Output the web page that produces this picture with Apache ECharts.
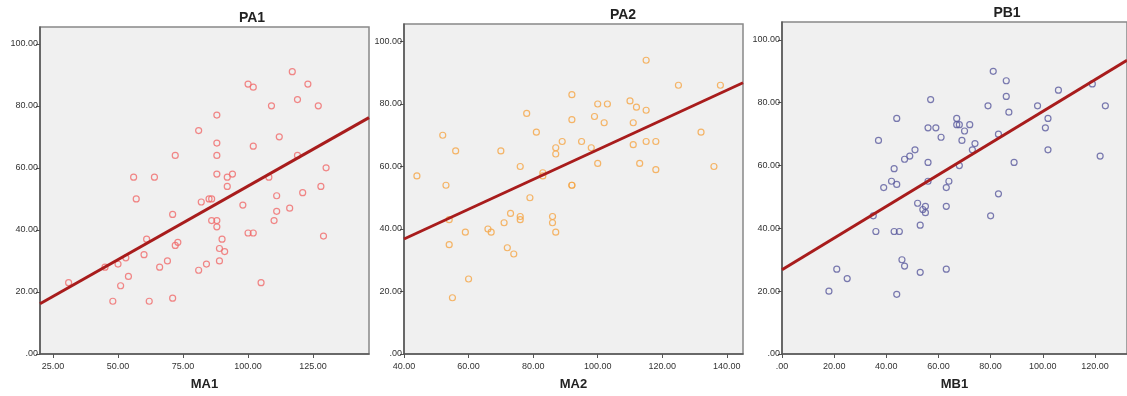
<!DOCTYPE html>
<html>
<head>
<meta charset="utf-8">
<script src="https://cdn.jsdelivr.net/npm/echarts@6/dist/echarts.min.js"></script>
<style>
  html, body { margin: 0; padding: 0; background: #fff; }
  #main { width: 1127px; height: 396px; }
</style>
</head>
<body>
<div id="main"></div>
<script>
// PA1 vs MA1
var ma1 = [117, 123, 100, 102, 119, 109, 127, 88, 81, 112, 88, 102, 72, 88, 119, 56, 64, 88, 92, 94, 108,
           130, 92, 128, 121, 111, 57, 85, 86, 82, 98, 71, 86, 88, 88, 110, 111, 116, 100, 102, 129, 61,
           90, 73, 72, 89, 91, 60, 53, 50, 69, 89, 84, 45, 66, 81, 54, 31, 105, 51, 71, 48, 62];
var pa1 = [91, 87, 87, 86, 82, 80, 80, 77, 72, 70, 68, 67, 64, 64, 64, 57, 57, 58, 57, 58, 57,
           60, 54, 54, 52, 51, 50, 50, 50, 49, 48, 45, 43, 43, 41, 43, 46, 47, 39, 39, 38, 37,
           37, 36, 35, 34, 33, 32, 31, 29, 30, 30, 29, 28, 28, 27, 25, 23, 23, 22, 18, 17, 17];
var fitA1 = [[20, 16.2], [146.5, 76.2]];

// PA2 vs MA2
var ma2 = [115, 125, 138, 92, 110, 100, 103, 112, 115, 78, 92, 99, 102, 111, 52, 81, 132, 89, 95, 115, 118,
           111, 56, 70, 87, 98, 87, 100, 113, 76, 136, 118, 44, 83, 83, 53, 92, 92, 79, 54, 73, 76, 76,
           86, 86, 71, 66, 67, 59, 87, 54, 72, 74, 60, 55];
var pa2 = [94, 86, 86, 83, 81, 80, 80, 79, 78, 77, 75, 76, 74, 74, 70, 71, 71, 68, 68, 68, 68,
           67, 65, 65, 66, 66, 64, 61, 61, 60, 60, 59, 57, 58, 57, 54, 54, 54, 50, 43, 45, 44, 43,
           44, 42, 42, 40, 39, 39, 39, 35, 34, 32, 24, 18];
var fitA2 = [[40, 36.8], [145, 86.8]];

// PB1 vs MB1
var mb1 = [81, 86, 86, 57, 106, 119, 79, 98, 124, 87, 44, 67, 102, 56, 59, 67, 68, 72, 70, 101, 61,
           83, 37, 69, 74, 73, 51, 102, 49, 47, 122, 56, 89, 68, 43, 42, 44, 56, 64, 63, 39, 83,
           52, 55, 54, 55, 63, 35, 80, 53, 36, 43, 45, 46, 47, 53, 63, 21, 25, 18, 44];
var pb1 = [90, 87, 82, 81, 84, 86, 79, 79, 79, 77, 75, 75, 75, 72, 72, 73, 73, 73, 71, 72, 69,
           70, 68, 68, 67, 65, 65, 65, 63, 62, 63, 61, 61, 60, 59, 55, 54, 55, 55, 53, 53, 51,
           48, 47, 46, 45, 47, 44, 44, 41, 39, 39, 39, 30, 28, 26, 27, 27, 24, 20, 19];
var fitB1 = [[0, 26.8], [132.3, 93.5]];

var ticksY = [0, 20, 40, 60, 80, 100];
var ticksA1 = [25, 50, 75, 100, 125];
var ticksA2 = [40, 60, 80, 100, 120, 140];
var ticksB1 = [0, 20, 40, 60, 80, 100, 120];

function zip(xs, ys) {
    return xs.map(function (x, i) { return [x, ys[i]]; });
}

function fmt(v) {
    return v === 0 ? '.00' : v.toFixed(2);
}

var labelStyle = { color: '#333', fontSize: 9, fontFamily: 'Liberation Sans', formatter: fmt };
var axisLine = { show: true, lineStyle: { color: '#555', width: 1.5 } };

function makeX(idx, min, max, ticks, name) {
    return {
        gridIndex: idx, type: 'value', min: min, max: max,
        name: name, nameLocation: 'middle', nameGap: 24,
        nameTextStyle: { color: '#222', fontSize: 13, fontWeight: 'bold', fontFamily: 'Liberation Sans' },
        splitLine: { show: false },
        axisLine: axisLine,
        axisTick: { show: true, length: 4, customValues: ticks, lineStyle: { color: '#555' } },
        axisLabel: Object.assign({ margin: 8, customValues: ticks }, labelStyle)
    };
}

function makeY(idx, max) {
    return {
        gridIndex: idx, type: 'value', min: 0, max: max,
        splitLine: { show: false },
        axisLine: axisLine,
        axisTick: { show: true, length: 4, customValues: ticksY, lineStyle: { color: '#555' } },
        axisLabel: Object.assign({ margin: 2, customValues: ticksY }, labelStyle)
    };
}

function scatter(idx, data, color) {
    return {
        type: 'scatter', xAxisIndex: idx, yAxisIndex: idx, data: data,
        symbol: 'circle', symbolSize: 6,
        itemStyle: { color: 'rgba(0,0,0,0)', borderColor: color, borderWidth: 1.2 },
        z: 3
    };
}

function fitLine(idx, data) {
    return {
        type: 'line', xAxisIndex: idx, yAxisIndex: idx, data: data,
        symbol: 'none', lineStyle: { color: '#a81c1c', width: 3 }, z: 4
    };
}

var gridBase = { show: true, backgroundColor: '#f0f0f0', borderColor: '#888', borderWidth: 1.5 };

var chart = echarts.init(document.getElementById('main'));
var option = {
    animation: false,
    backgroundColor: '#fff',
    title: [
        { text: 'PA1', left: 247, top: 6, textAlign: 'center' },
        { text: 'PA2', left: 618, top: 3, textAlign: 'center' },
        { text: 'PB1', left: 1002, top: 1, textAlign: 'center' }
    ].map(function (t) {
        t.textStyle = { color: '#222', fontSize: 14, fontWeight: 'bold', fontFamily: 'Liberation Sans' };
        return t;
    }),
    grid: [
        Object.assign({ left: 40, top: 27, width: 329, height: 329 }, gridBase),
        Object.assign({ left: 404, top: 24, width: 339, height: 333 }, gridBase),
        Object.assign({ left: 782, top: 22, width: 350, height: 335 }, gridBase)
    ],
    xAxis: [
        makeX(0, 20, 146.5, ticksA1, 'MA1'),
        makeX(1, 40, 145, ticksA2, 'MA2'),
        makeX(2, 0, 132.3, ticksB1, 'MB1')
    ],
    yAxis: [
        makeY(0, 105.4),
        makeY(1, 105.6),
        makeY(2, 105.7)
    ],
    series: [
        scatter(0, zip(ma1, pa1), '#f06a6a'),
        fitLine(0, fitA1),
        scatter(1, zip(ma2, pa2), '#f5a545'),
        fitLine(1, fitA2),
        scatter(2, zip(mb1, pb1), '#5a5a9e'),
        fitLine(2, fitB1)
    ]
};
chart.setOption(option);
</script>
</body>
</html>
